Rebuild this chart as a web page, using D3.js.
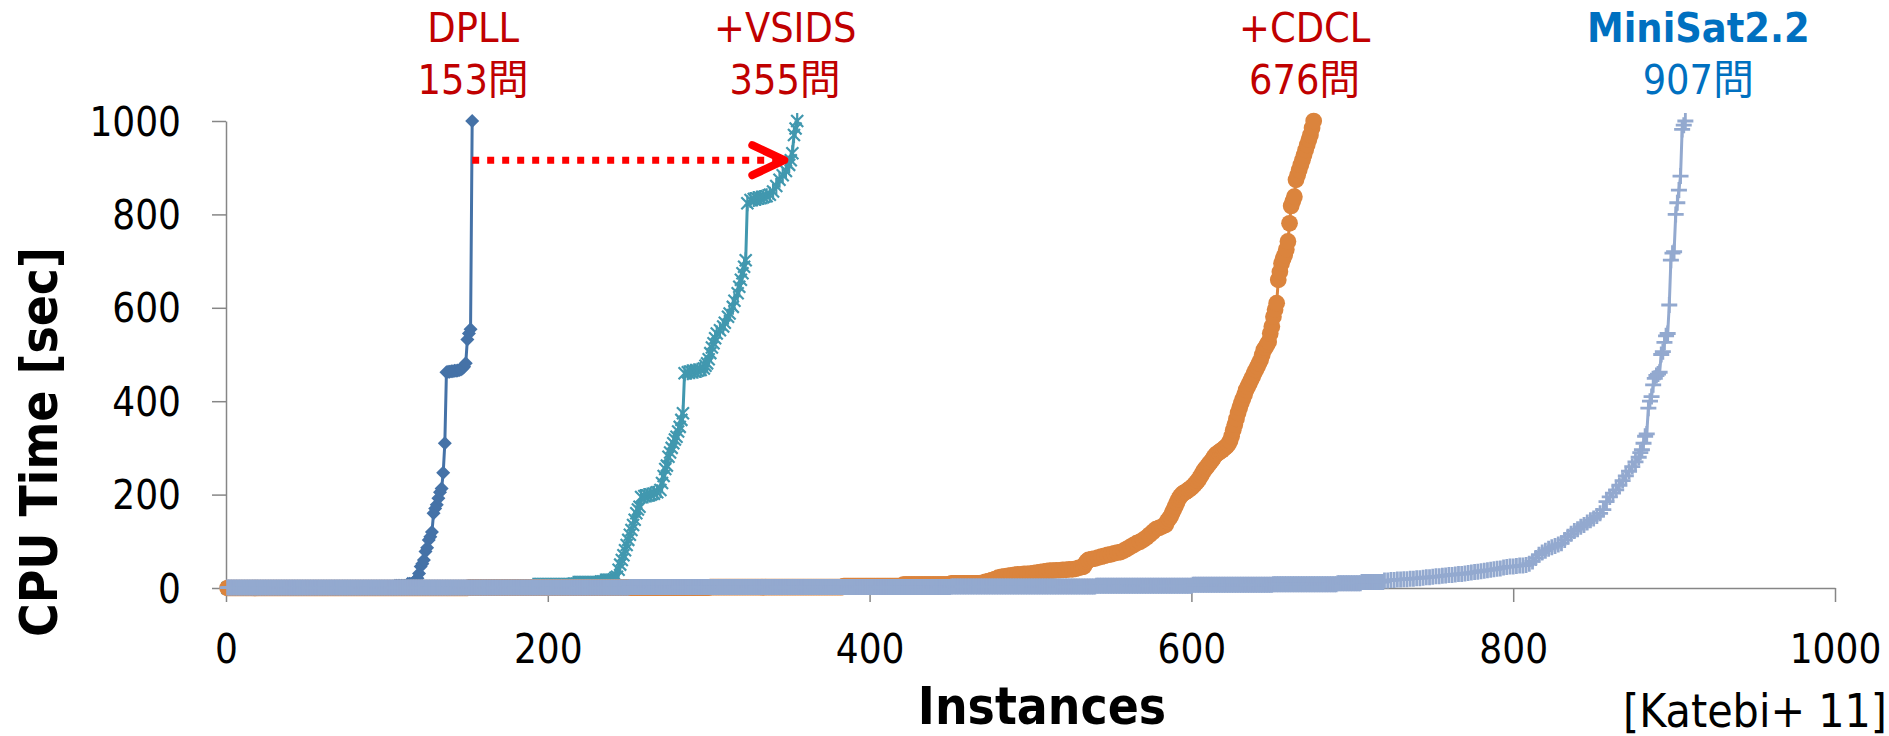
<!DOCTYPE html>
<html lang="ja">
<head>
<meta charset="utf-8">
<title>SAT solver cactus plot</title>
<script src="https://d3js.org/d3.v7.min.js"></script>
<style>
  body { margin: 0; background: #fff; }
  text {
    font-family: 'DejaVu Sans Condensed', 'DejaVu Sans', 'Noto Sans CJK JP', sans-serif;
    font-stretch: condensed;
  }
  .axis path, .axis line { stroke: #868686; stroke-width: 1.5; }
  .axis text { fill: #000; font-size: 40px; }
</style>
</head>
<body>
<div id="container"></div>
<script>
// ---------------------------//
//          DATA              //
// ---------------------------//
const solvers = ["DPLL", "+VSIDS", "+CDCL", "MiniSat2.2"];
const solvedCounts = [153, 355, 676, 907];
const xTicks = [0, 200, 400, 600, 800, 1000];
const yTicks = [0, 200, 400, 600, 800, 1000];

// near-zero stretch of each curve: [first instance, last instance, sec]
const dpllFlat = [[1, 90, 0], [91, 104, 2], [105, 112, 5], [113, 116, 9]];
const vsidsFlat = [[1, 150, 0], [151, 190, 2], [191, 215, 5], [216, 232, 9], [233, 240, 14]];
const cdclFlat = [[1, 150, 0], [151, 300, 1], [301, 383, 2], [384, 420, 4], [421, 450, 7], [451, 469, 10]];
const minisatFlat = [[1, 250, 1], [251, 450, 2], [451, 540, 3], [541, 600, 5], [601, 650, 7], [651, 690, 8], [691, 705, 10], [706, 719, 13]];

// rising part: [instance, sec]
const dpllPts = [[117,13],[118,17],[119,21],[120,31],[121,46],[122,52],[123,60],[124,78],[125,86],[126,103],[127,110],[128,120],[129,160],[130,170],[131,178],[132,192],[133,205],[134,213],[135,247],[136,310],[137,462],[138,463],[139,463],[140,464],[141,464],[142,465],[143,465],[144,466],[145,467],[146,468],[147,470],[148,474],[149,481],[150,532],[151,545],[152,554],[153,1000]];

const vsidsPts = [[241,18],[242,22],[243,24],[244,39],[245,50],[246,60],[247,70],[248,81],[249,92],[250,103],[251,114],[252,124],[253,135],[254,146],[255,160],[256,168],[257,174],[258,195],[260,197],[262,198],[264,200],[266,202],[268,205],[270,210],[271,225],[272,240],[273,255],[274,262],[275,281],[276,290],[277,300],[278,310],[279,318],[280,324],[281,335],[282,345],[283,360],[284,374],[285,460],[287,462],[289,463],[291,464],[293,465],[295,467],[297,470],[298,476],[299,481],[300,490],[301,503],[302,515],[303,524],[304,535],[305,545],[307,552],[309,560],[310,568],[312,581],[313,588],[315,602],[316,615],[318,631],[319,645],[320,660],[321,674],[322,688],[323,702],[324,824],[326,831],[328,833],[330,834],[332,835],[334,837],[336,839],[338,842],[340,849],[342,861],[344,874],[346,884],[348,893],[350,906],[351,916],[352,931],[353,970],[354,984],[355,1000]];

const cdclPts = [[470,11],[472,13],[474,15],[476,17],[478,19],[480,22],[482,24],[484,25],[486,26],[488,27],[490,28],[492,29],[494,29],[496,30],[498,30],[500,31],[502,32],[504,33],[506,34],[508,35],[510,36],[512,37],[514,37],[516,38],[518,38],[520,39],[522,39],[524,40],[526,40],[528,41],[530,43],[532,45],[533,46],[534,52],[535,57],[536,60],[538,62],[540,63],[542,65],[544,67],[546,69],[548,71],[550,72],[552,74],[554,76],[556,77],[558,80],[560,84],[562,88],[564,92],[566,96],[568,99],[570,103],[572,108],[574,114],[576,120],[578,126],[580,129],[582,132],[584,135],[585,143],[586,148],[587,153],[588,160],[589,168],[590,175],[591,183],[592,190],[593,196],[594,200],[595,203],[596,205],[597,207],[598,210],[599,212],[600,215],[601,218],[602,222],[603,226],[604,230],[605,235],[606,241],[607,247],[608,253],[609,257],[610,261],[611,266],[612,270],[613,275],[614,280],[615,285],[616,288],[617,290],[618,293],[619,295],[620,298],[621,301],[622,304],[623,308],[624,315],[625,325],[626,338],[627,350],[628,362],[629,375],[630,386],[631,396],[632,405],[633,414],[634,424],[635,431],[636,438],[637,445],[638,452],[639,460],[640,467],[641,474],[642,481],[643,488],[644,499],[645,510],[646,515],[647,521],[648,527],[649,545],[650,560],[651,581],[652,596],[653,610],[654,660],[655,677],[656,695],[657,705],[658,713],[659,725],[660,742],[661,781],[662,818],[663,828],[664,838],[665,874],[666,884],[667,895],[668,906],[669,916],[670,927],[671,938],[672,949],[673,960],[674,970],[675,985],[676,1000]];

const minisatPts = [[720,16],[722,16],[724,17],[726,17],[728,18],[730,18],[732,19],[734,19],[736,20],[738,20],[740,21],[742,21],[744,22],[746,23],[748,23],[750,24],[752,25],[754,25],[756,26],[758,27],[760,28],[762,28],[764,29],[766,30],[768,30],[770,31],[772,32],[774,33],[776,34],[778,35],[780,36],[782,37],[784,38],[786,39],[788,40],[790,41],[792,42],[794,44],[796,45],[798,46],[800,46],[802,47],[804,48],[806,48],[808,49],[810,52],[812,57],[814,64],[816,71],[818,76],[820,80],[822,84],[824,87],[826,90],[828,93],[830,96],[832,103],[834,110],[836,116],[838,122],[840,126],[842,131],[844,135],[846,140],[848,145],[850,149],[852,154],[854,160],[856,168],[858,185],[860,195],[862,203],[864,210],[866,220],[868,230],[870,240],[872,250],[874,260],[876,270],[878,280],[879,290],[880,296],[881,310],[882,325],[883,330],[884,385],[885,400],[886,410],[887,435],[888,449],[889,455],[890,458],[891,462],[892,500],[893,506],[894,526],[895,540],[896,545],[897,606],[898,702],[899,717],[900,720],[901,800],[902,825],[903,852],[904,882],[905,982],[906,991],[907,1000]];

// the arrow DPLL -> +VSIDS: [instance, sec]
const arrowFrom = [153, 916];
const arrowTo = [347, 916];

// ---------------------------//
//          LAYOUT            //
// ---------------------------//
const w = 1889, h = 736;
const colors = ["#4572A7", "#4198AF", "#DB843D", "#93A9CF"];
const labelColors = ["#C00000", "#C00000", "#C00000", "#0070C0"];
const labelShift = [1, -12, -9, 13];

const svg = d3.select("#container").append("svg")
    .attr("width", w).attr("height", h)
    .attr("viewBox", "0 0 " + w + " " + h);

const x = d3.scaleLinear().domain([0, 1000]).range([226, 1835]);
const y = d3.scaleLinear().domain([0, 1000]).range([588, 121]);

function expand(flat, pts) {
  const out = [];
  flat.forEach(function(r) {
    for (let i = r[0]; i <= r[1]; i++) out.push([i, r[2]]);
  });
  return out.concat(pts);
}

const series = [
  expand(dpllFlat, dpllPts),
  expand(vsidsFlat, vsidsPts),
  expand(cdclFlat, cdclPts),
  expand(minisatFlat, minisatPts)
];

// ---------------------------//
//          AXES              //
// ---------------------------//
const yAxis = svg.append("g").attr("class", "axis")
    .attr("transform", "translate(" + x(0) + ",0)")
    .call(d3.axisLeft(y).tickValues(yTicks).tickFormat(d3.format("d"))
      .tickSize(14).tickSizeOuter(0).tickPadding(31));
yAxis.selectAll("text").attr("dy", "0.35em");

const xAxis = svg.append("g").attr("class", "axis")
    .attr("transform", "translate(0," + y(0) + ")")
    .call(d3.axisBottom(x).tickValues(xTicks).tickFormat(d3.format("d"))
      .tickSize(14).tickSizeOuter(0).tickPadding(0));
xAxis.selectAll("text").attr("y", 75).attr("dy", 0);

svg.append("text")
    .attr("transform", "translate(57,442) rotate(-90)")
    .attr("text-anchor", "middle")
    .style("font-size", "51px").style("font-weight", "bold")
    .text("CPU Time [sec]");

svg.append("text")
    .attr("x", 1042).attr("y", 724)
    .attr("text-anchor", "middle")
    .style("font-size", "51px").style("font-weight", "bold")
    .text("Instances");

svg.append("text")
    .attr("x", 1887).attr("y", 727)
    .attr("text-anchor", "end")
    .style("font-size", "46px")
    .text("[Katebi+ 11]");

// ---------------------------//
//          SERIES            //
// ---------------------------//
const line = d3.line().x(d => x(d[0])).y(d => y(d[1]));
const markers = [
  "M0,-7L7,0L0,7L-7,0Z",
  "M-6,-6L6,6M-6,6L6,-6M0,-8V8",
  d3.symbol(d3.symbolCircle, 220)(),
  "M-8,0H8M0,-8V8"
];
const markerStroke = [0, 2.2, 0, 2.8];

series.forEach(function(data, k) {
  const g = svg.append("g");
  g.append("path")
      .datum(data)
      .attr("d", line)
      .attr("fill", "none")
      .attr("stroke", colors[k])
      .attr("stroke-width", 3)
      .attr("stroke-linejoin", "round");
  const filled = markerStroke[k] === 0;
  g.selectAll("path.mk")
      .data(data)
      .enter().append("path")
      .attr("class", "mk")
      .attr("transform", d => "translate(" + x(d[0]) + "," + y(d[1]) + ")")
      .attr("d", markers[k])
      .attr("fill", filled ? colors[k] : "none")
      .attr("stroke", colors[k])
      .attr("stroke-width", markerStroke[k]);
});

// ---------------------------//
//          LABELS            //
// ---------------------------//
solvers.forEach(function(name, k) {
  const cx = x(solvedCounts[k]) + labelShift[k];
  svg.append("text")
      .attr("x", cx).attr("y", 42)
      .attr("text-anchor", "middle")
      .style("font-size", "41px")
      .style("font-weight", k === 3 ? "bold" : "normal")
      .attr("fill", labelColors[k])
      .text(name);
  svg.append("text")
      .attr("x", cx).attr("y", 94)
      .attr("text-anchor", "middle")
      .style("font-size", "41px")
      .attr("fill", labelColors[k])
      .text(solvedCounts[k] + "問");
});

// ---------------------------//
//          ARROW             //
// ---------------------------//
const ax0 = x(arrowFrom[0]), ax1 = x(arrowTo[0]), ay = y(arrowFrom[1]);
svg.append("line")
    .attr("x1", ax0).attr("y1", ay).attr("x2", ax1 - 6).attr("y2", ay)
    .attr("stroke", "#FF0000").attr("stroke-width", 7)
    .attr("stroke-dasharray", "7 8");
svg.append("path")
    .attr("d", "M" + (ax1 - 32) + "," + (ay - 15) + "L" + ax1 + "," + ay + "L" + (ax1 - 32) + "," + (ay + 15))
    .attr("fill", "none")
    .attr("stroke", "#FF0000").attr("stroke-width", 8)
    .attr("stroke-linecap", "round").attr("stroke-linejoin", "round");
</script>
</body>
</html>
